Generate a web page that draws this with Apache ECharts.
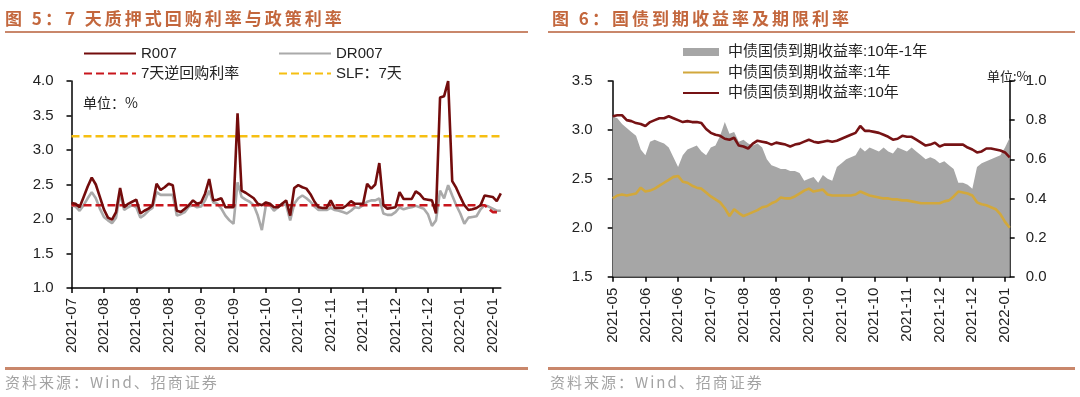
<!DOCTYPE html>
<html>
<head>
<meta charset="utf-8">
<script src="https://cdn.jsdelivr.net/npm/echarts@6.0.0/dist/echarts.min.js"></script>
<style>
  html, body { margin: 0; padding: 0; background: #fff; }
  #wrap { position: relative; width: 1080px; height: 397px; overflow: hidden; }
  #chart { position: absolute; left: 0; top: 0; width: 1080px; height: 397px; }
  .title { position: absolute; top: 5px; font: bold 17px "Noto Sans CJK SC", sans-serif; color: #c3673d; letter-spacing: 3px; white-space: nowrap; }
  .rule { position: absolute; height: 2px; background: #c9876b; }
  .source { position: absolute; top: 371px; font: 15px "Noto Sans CJK SC", sans-serif; color: #a3a3a3; letter-spacing: 2px; white-space: nowrap; }
</style>
</head>
<body>
<div id="wrap">
  <div id="chart"></div>
  <div class="title" style="left:5px">图 5：7 天质押式回购利率与政策利率</div>
  <div class="rule" style="left:5px;top:31px;width:523px"></div>
  <div class="rule" style="left:5px;top:367px;width:523px;height:3px"></div>
  <div class="source" style="left:5px">资料来源：Wind、招商证券</div>
  <div class="title" style="left:552px">图 6：国债到期收益率及期限利率</div>
  <div class="rule" style="left:548px;top:31px;width:527px"></div>
  <div class="rule" style="left:548px;top:367px;width:527px;height:3px"></div>
  <div class="source" style="left:550px">资料来源：Wind、招商证券</div>
</div>
<script>
// ---- 图5 data (one point every ~2 calendar days, tick every 8 points) ----
const leftTicks = ['2021-07', '2021-08', '2021-08', '2021-08', '2021-09', '2021-09', '2021-10',
    '2021-10', '2021-11', '2021-11', '2021-12', '2021-12', '2022-01', '2022-01'];

const r007 = [
    2.23, 2.22, 2.17, 2.32, 2.47, 2.60, 2.50, 2.32, 2.14, 2.02,
    1.99, 2.10, 2.45, 2.17, 2.22, 2.25, 2.28, 2.08, 2.12, 2.15,
    2.20, 2.51, 2.42, 2.46, 2.51, 2.49, 2.12, 2.10, 2.15, 2.20,
    2.27, 2.22, 2.24, 2.37, 2.58, 2.27, 2.28, 2.30, 2.17, 2.17,
    2.17, 3.53, 2.41, 2.38, 2.34, 2.30, 2.22, 2.20, 2.24, 2.22,
    2.17, 2.17, 2.22, 2.27, 2.05, 2.45, 2.49, 2.46, 2.44, 2.36,
    2.25, 2.17, 2.16, 2.16, 2.27, 2.16, 2.16, 2.16, 2.20, 2.26,
    2.22, 2.22, 2.22, 2.51, 2.44, 2.50, 2.81, 2.20, 2.15, 2.16,
    2.17, 2.39, 2.29, 2.29, 2.29, 2.40, 2.36, 2.29, 2.28, 2.27,
    2.08, 3.76, 3.78, 4.00, 2.55, 2.45, 2.32, 2.20, 2.13, 2.14,
    2.16, 2.20, 2.34, 2.33, 2.32, 2.26, 2.37
];
const dr007 = [
    2.20, 2.18, 2.12, 2.20, 2.30, 2.39, 2.30, 2.15, 2.03, 1.98,
    1.94, 2.02, 2.37, 2.13, 2.17, 2.20, 2.17, 2.02, 2.06, 2.12,
    2.16, 2.39, 2.35, 2.35, 2.35, 2.35, 2.05, 2.07, 2.10, 2.18,
    2.20, 2.17, 2.18, 2.27, 2.41, 2.24, 2.22, 2.15, 2.05, 1.98,
    1.93, 2.53, 2.32, 2.28, 2.25, 2.20, 2.05, 1.84, 2.20, 2.20,
    2.12, 2.17, 2.22, 2.20, 1.98, 2.22, 2.30, 2.34, 2.30, 2.25,
    2.18, 2.13, 2.13, 2.13, 2.16, 2.13, 2.12, 2.10, 2.08, 2.12,
    2.17, 2.16, 2.20, 2.25, 2.27, 2.27, 2.30, 2.08, 2.06, 2.06,
    2.10, 2.17, 2.14, 2.16, 2.17, 2.19, 2.17, 2.15, 2.07, 1.90,
    1.98, 2.41, 2.30, 2.49, 2.34, 2.20, 2.08, 1.93, 2.02, 2.03,
    2.04, 2.14, 2.20, 2.18, 2.15, 2.12, 2.12
];
const reverseRepo7d = [
    2.2, 2.2, 2.2, 2.2, 2.2, 2.2, 2.2, 2.2, 2.2, 2.2,
    2.2, 2.2, 2.2, 2.2, 2.2, 2.2, 2.2, 2.2, 2.2, 2.2,
    2.2, 2.2, 2.2, 2.2, 2.2, 2.2, 2.2, 2.2, 2.2, 2.2,
    2.2, 2.2, 2.2, 2.2, 2.2, 2.2, 2.2, 2.2, 2.2, 2.2,
    2.2, 2.2, 2.2, 2.2, 2.2, 2.2, 2.2, 2.2, 2.2, 2.2,
    2.2, 2.2, 2.2, 2.2, 2.2, 2.2, 2.2, 2.2, 2.2, 2.2,
    2.2, 2.2, 2.2, 2.2, 2.2, 2.2, 2.2, 2.2, 2.2, 2.2,
    2.2, 2.2, 2.2, 2.2, 2.2, 2.2, 2.2, 2.2, 2.2, 2.2,
    2.2, 2.2, 2.2, 2.2, 2.2, 2.2, 2.2, 2.2, 2.2, 2.2,
    2.2, 2.2, 2.2, 2.2, 2.2, 2.2, 2.2, 2.2, 2.2, 2.2,
    2.2, 2.2, 2.2, 2.15, 2.1, 2.1, 2.1
];
const slf7d = [
    3.2, 3.2, 3.2, 3.2, 3.2, 3.2, 3.2, 3.2, 3.2, 3.2,
    3.2, 3.2, 3.2, 3.2, 3.2, 3.2, 3.2, 3.2, 3.2, 3.2,
    3.2, 3.2, 3.2, 3.2, 3.2, 3.2, 3.2, 3.2, 3.2, 3.2,
    3.2, 3.2, 3.2, 3.2, 3.2, 3.2, 3.2, 3.2, 3.2, 3.2,
    3.2, 3.2, 3.2, 3.2, 3.2, 3.2, 3.2, 3.2, 3.2, 3.2,
    3.2, 3.2, 3.2, 3.2, 3.2, 3.2, 3.2, 3.2, 3.2, 3.2,
    3.2, 3.2, 3.2, 3.2, 3.2, 3.2, 3.2, 3.2, 3.2, 3.2,
    3.2, 3.2, 3.2, 3.2, 3.2, 3.2, 3.2, 3.2, 3.2, 3.2,
    3.2, 3.2, 3.2, 3.2, 3.2, 3.2, 3.2, 3.2, 3.2, 3.2,
    3.2, 3.2, 3.2, 3.2, 3.2, 3.2, 3.2, 3.2, 3.2, 3.2,
    3.2, 3.2, 3.2, 3.2, 3.2, 3.2, 3.2
];

// ---- 图6 data (tick every 7 points) ----
const rightTicks = ['2021-05', '2021-06', '2021-06', '2021-07', '2021-08', '2021-08', '2021-09',
    '2021-10', '2021-10', '2021-11', '2021-12', '2021-12', '2022-01'];

const cgb10y = [
    3.14, 3.15, 3.15, 3.10, 3.09, 3.07, 3.06, 3.04, 3.08, 3.10,
    3.12, 3.12, 3.14, 3.12, 3.10, 3.08, 3.09, 3.08, 3.08, 3.07,
    3.01, 2.97, 2.95, 2.94, 2.91, 2.90, 2.92, 2.84, 2.83, 2.81,
    2.86, 2.89, 2.88, 2.87, 2.85, 2.87, 2.86, 2.85, 2.83, 2.85,
    2.86, 2.88, 2.90, 2.88, 2.87, 2.88, 2.89, 2.88, 2.89, 2.91,
    2.93, 2.95, 2.97, 3.04, 2.99, 2.99, 2.98, 2.97, 2.95, 2.93,
    2.90, 2.91, 2.94, 2.93, 2.93, 2.90, 2.87, 2.84, 2.85, 2.87,
    2.83, 2.85, 2.85, 2.85, 2.85, 2.85, 2.82, 2.80, 2.77, 2.78,
    2.81, 2.81, 2.80, 2.79, 2.77, 2.72
];
const cgb1y = [
    2.30, 2.33, 2.34, 2.33, 2.34, 2.35, 2.41, 2.37, 2.38, 2.40,
    2.43, 2.46, 2.49, 2.52, 2.53, 2.47, 2.46, 2.43, 2.41, 2.40,
    2.36, 2.32, 2.29, 2.26, 2.20, 2.12, 2.19, 2.15, 2.12, 2.14,
    2.16, 2.18, 2.21, 2.22, 2.25, 2.27, 2.31, 2.30, 2.30, 2.32,
    2.35, 2.38, 2.40, 2.37, 2.38, 2.39, 2.34, 2.33, 2.33, 2.33,
    2.33, 2.33, 2.34, 2.37, 2.35, 2.33, 2.32, 2.31, 2.30, 2.30,
    2.29, 2.29, 2.28, 2.28, 2.27, 2.26, 2.25, 2.25, 2.25, 2.25,
    2.25, 2.27, 2.28, 2.32, 2.37, 2.36, 2.35, 2.33, 2.26, 2.24,
    2.23, 2.21, 2.19, 2.14, 2.06, 2.00
];
const spread10y1y = [
    0.82, 0.81, 0.78, 0.76, 0.74, 0.72, 0.65, 0.62, 0.69, 0.70,
    0.69, 0.68, 0.66, 0.61, 0.56, 0.62, 0.65, 0.66, 0.67, 0.64,
    0.62, 0.66, 0.67, 0.72, 0.79, 0.73, 0.74, 0.69, 0.70, 0.68,
    0.67, 0.68, 0.66, 0.60, 0.57, 0.56, 0.55, 0.55, 0.54, 0.54,
    0.53, 0.49, 0.50, 0.51, 0.48, 0.52, 0.50, 0.49, 0.56, 0.58,
    0.60, 0.61, 0.62, 0.66, 0.64, 0.66, 0.65, 0.64, 0.66, 0.64,
    0.63, 0.66, 0.65, 0.64, 0.66, 0.64, 0.62, 0.60, 0.61, 0.60,
    0.58, 0.59, 0.57, 0.55, 0.48, 0.48, 0.47, 0.45, 0.56, 0.58,
    0.59, 0.60, 0.61, 0.62, 0.66, 0.71
];

const FONT = '"Liberation Sans", "Noto Sans CJK SC", sans-serif';
const AXIS = { lineStyle: { color: '#000', width: 1.5 } };

// category axis: one category per point, labels from the tick arrays
const xAxisFor = (grid, n, step, ticks, margin) => ({
    type: 'category',
    gridIndex: grid,
    boundaryGap: false,
    data: Array.from({ length: n }, (_, i) => String(i)),
    axisLine: AXIS,
    axisTick: { show: true, interval: step - 1, length: 5, lineStyle: { color: '#000', width: 1.5 } },
    axisLabel: {
        interval: step - 1,
        rotate: 90,
        margin,
        color: '#222',
        fontSize: 15,
        fontFamily: FONT,
        formatter: (v, idx) => ticks[idx / step] || '',
    },
    splitLine: { show: false },
});

const yAxisFor = (grid, min, max, interval, position, margin) => ({
    type: 'value',
    gridIndex: grid,
    position,
    min,
    max,
    interval,
    axisLine: { show: true, ...AXIS },
    axisTick: { show: true, length: 5, lineStyle: { color: '#000', width: 1.5 } },
    axisLabel: {
        margin,
        color: '#222',
        fontSize: 15,
        fontFamily: FONT,
        formatter: (v) => v.toFixed(1),
    },
    splitLine: { show: false },
});

const lineSeries = (name, data, color, x, y, extra) => ({
    name,
    type: 'line',
    xAxisIndex: x,
    yAxisIndex: y,
    data,
    symbol: 'none',
    smooth: false,
    animation: false,
    lineStyle: { color, width: 2.6 },
    itemStyle: { color },
    ...extra,
});

const legendText = { color: '#222', fontSize: 15, fontFamily: FONT };
// hide the symbol dot that line legends draw, keep the line
const legendBase = { orient: 'vertical', padding: 0, itemStyle: { opacity: 0 }, textStyle: legendText };

const option = {
    backgroundColor: '#fff',
    animation: false,
    grid: [
        { left: 71.5, top: 81, width: 429.3, height: 207 },
        { left: 612.7, top: 81, width: 397, height: 195.7 },
    ],
    xAxis: [
        xAxisFor(0, r007.length, 8, leftTicks, 10),
        xAxisFor(1, cgb10y.length, 7, rightTicks, 11),
    ],
    yAxis: [
        yAxisFor(0, 1, 4, 0.5, 'left', 18),
        yAxisFor(1, 1.5, 3.5, 0.5, 'left', 20),
        yAxisFor(1, 0, 1, 0.2, 'right', 16),
    ],
    legend: [
        { ...legendBase, left: 83, top: 46, itemWidth: 52, itemHeight: 14, itemGap: 5, data: ['R007', '7天逆回购利率'] },
        { ...legendBase, left: 278, top: 46, itemWidth: 52, itemHeight: 14, itemGap: 5, data: ['DR007', 'SLF：7天'] },
        {
            ...legendBase, left: 682, top: 44.5, itemWidth: 36, itemHeight: 8, itemGap: 5.5,
            textStyle: { ...legendText, lineHeight: 14, padding: [0, 0, 0, 4] },
            data: [
                { name: '中债国债到期收益率:10年-1年', icon: 'rect', itemStyle: { opacity: 1, color: '#a6a6a6' } },
                '中债国债到期收益率:1年',
                '中债国债到期收益率:10年',
            ],
        },
    ],
    graphic: [
        {
            type: 'text', left: 83, top: 96,
            style: { text: '单位：%', fontSize: 14, fontFamily: '"Noto Sans CJK SC", sans-serif', fill: '#222' },
        },
        {
            type: 'text', left: 987, top: 70,
            style: { text: '单位:%', fontSize: 13, fontFamily: '"Noto Sans CJK SC", sans-serif', fill: '#222' },
        },
    ],
    series: [
        lineSeries('SLF：7天', slf7d, '#f6bf12', 0, 0, { lineStyle: { color: '#f6bf12', width: 2.6, type: [8, 4] } }),
        lineSeries('DR007', dr007, '#aaaaaa', 0, 0),
        lineSeries('7天逆回购利率', reverseRepo7d, '#c8161d', 0, 0, { lineStyle: { color: '#c8161d', width: 2.6, type: [8, 4] } }),
        lineSeries('R007', r007, '#730c0c', 0, 0),

        lineSeries('中债国债到期收益率:10年-1年', spread10y1y, '#a6a6a6', 1, 2, {
            lineStyle: { width: 0 },
            areaStyle: { color: '#a6a6a6', opacity: 1 },
        }),
        lineSeries('中债国债到期收益率:1年', cgb1y, '#d2a83c', 1, 1),
        lineSeries('中债国债到期收益率:10年', cgb10y, '#761214', 1, 1),
    ],
};

const chart = echarts.init(document.getElementById('chart'), null, { renderer: 'canvas' });
chart.setOption(option);
</script>
</body>
</html>
